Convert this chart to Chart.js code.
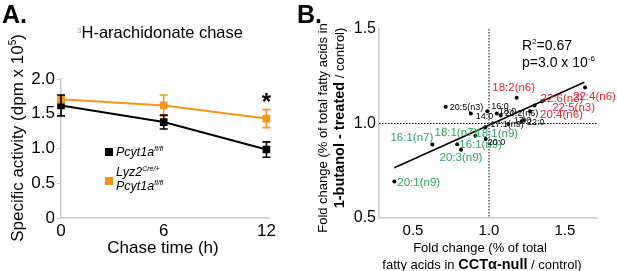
<!DOCTYPE html>
<html>
<head>
<meta charset="utf-8">
<script src="https://cdn.jsdelivr.net/npm/chart.js@4.4.0/dist/chart.umd.min.js"></script>
<style>
  html, body { margin: 0; padding: 0; background: #fff; }
  #wrap { position: relative; width: 617px; height: 271px; overflow: hidden; }
  #chartA { position: absolute; left: 0; top: 0; }
  #chartB { position: absolute; left: 295px; top: 0; }
</style>
</head>
<body>
<div id="wrap">
  <canvas id="chartA" width="295" height="271"></canvas>
  <canvas id="chartB" width="322" height="271"></canvas>
</div>
<script>
// panel A: 3H-arachidonate chase
const chaseHours = [0, 6, 12];
const floxValues = [1.62, 1.38, 0.985];
const floxErrors = [0.15, 0.10, 0.11];
const nullValues = [1.71, 1.62, 1.43];
const nullErrors = [0.05, 0.15, 0.13];
const chaseTicks = [0, 6, 12];
const activityTicks = [0, 0.5, 1.0, 1.5, 2.0];

// panel B: fold changes per fatty acid
const acidNames = ["20:1(n9)", "16:1(n7)", "18:1(n7)", "18:1(n9)", "16:1(n9)", "20:3(n9)", "20:0",
  "20:5(n3)", "14:0", "16:0", "18:0", "20:2(n6)", "17:1(n9)", "17:0", "22:0",
  "18:2(n6)", "22:6(n3)", "22:5(n3)", "20:4(n6)", "22:4(n6)"];
const cctNull = [0.377, 0.627, 0.910, 0.976, 0.791, 0.816, 0.978,
  0.715, 0.880, 0.989, 1.051, 1.077, 1.127, 1.215, 1.230,
  1.182, 1.300, 1.350, 1.270, 1.632];
const butanol = [0.693, 0.889, 0.935, 0.980, 0.890, 0.861, 0.918,
  1.088, 1.053, 1.065, 1.053, 1.042, 0.998, 1.012, 1.017,
  1.136, 1.095, 1.118, 1.065, 1.190];
const acidGroup = ["down", "down", "down", "down", "down", "down", "other",
  "other", "other", "other", "other", "other", "other", "other", "other",
  "up", "up", "up", "up", "up"];
const fitX = [0.377, 1.627];
const fitY = [0.766, 1.218];
const foldTicks = [0.5, 1.0, 1.5];
const refLine = 1.0;

// label layout (pixel offsets from each dot)
const labelLayout = [[3, 0, "left"], [1, -8, "right"], [2, -4, "right"], [-10, 6, "left"], [2, 0, "left"], [0, 7, "center"], [2, 3, "left"],
  [4, 0, "left"], [5, 2, "left"], [4, -5, "left"], [2, -3, "left"], [4, -3, "left"], [-18, 0, "left"], [-8, -1, "left"], [3, 1, "left"],
  [-3, -11, "center"], [6, -8, "left"], [10, 6, "left"], [10, 3, "left"], [-12, 8, "left"]];

const FONT = "'Liberation Sans', Arial, sans-serif";
const ORANGE = "#F7941D";
const RED = "#E5262D";
const GREEN = "#2FA65A";
const AXIS = "#c9c9c9";

function drawRuns(ctx, runs, x, y, align) {
  let total = 0;
  runs.forEach(r => { ctx.font = r.font; r.w = ctx.measureText(r.t).width; total += r.w; });
  let sx = align === "center" ? x - total / 2 : align === "right" ? x - total : x;
  ctx.textAlign = "left";
  ctx.textBaseline = "alphabetic";
  runs.forEach(r => {
    ctx.font = r.font;
    ctx.fillStyle = r.color || "#000";
    ctx.fillText(r.t, sx, y - (r.rise || 0));
    sx += r.w;
  });
}

const errorBars = {
  id: "errorBars",
  afterDatasetsDraw(chart) {
    const ctx = chart.ctx;
    const xs = chart.scales.x, ys = chart.scales.y;
    chart.data.datasets.forEach(ds => {
      ctx.save();
      ctx.strokeStyle = ds.borderColor;
      ctx.lineWidth = 1.6;
      ds.data.forEach((p, i) => {
        const px = xs.getPixelForValue(p.x);
        const top = ys.getPixelForValue(p.y + ds.errors[i]);
        const bot = ys.getPixelForValue(p.y - ds.errors[i]);
        ctx.beginPath();
        ctx.moveTo(px, top); ctx.lineTo(px, bot);
        ctx.moveTo(px - 4, top); ctx.lineTo(px + 4, top);
        ctx.moveTo(px - 4, bot); ctx.lineTo(px + 4, bot);
        ctx.stroke();
      });
      ctx.restore();
    });
  }
};

const textA = {
  id: "textA",
  afterDraw(chart) {
    const ctx = chart.ctx;
    ctx.save();
    drawRuns(ctx, [{ t: "A.", font: "bold 25px " + FONT }], 2, 23, "left");
    drawRuns(ctx, [{ t: "3", font: "8px " + FONT, rise: 5, color: "#999" },
      { t: "H-arachidonate chase", font: "16.5px " + FONT }], 160, 38, "center");
    drawRuns(ctx, [{ t: "Chase time (h)", font: "17px " + FONT }], 163, 253, "center");
    ctx.save();
    ctx.translate(23, 138);
    ctx.rotate(-Math.PI / 2);
    drawRuns(ctx, [{ t: "Specific activity (dpm x 10", font: "17px " + FONT },
      { t: "5", font: "10px " + FONT, rise: 7 }, { t: ")", font: "17px " + FONT }], 0, 0, "center");
    ctx.restore();
    // legend
    ctx.fillStyle = "#000";
    ctx.fillRect(105, 148, 8, 8);
    ctx.fillStyle = ORANGE;
    ctx.fillRect(105, 177, 8, 8);
    const it = "italic 12.5px " + FONT, sup = "italic 7px " + FONT;
    drawRuns(ctx, [{ t: "Pcyt1a", font: it }, { t: "fl/fl", font: sup, rise: 5 }], 116, 156, "left");
    drawRuns(ctx, [{ t: "Lyz2", font: it }, { t: "Cre/+", font: sup, rise: 5 }], 116, 176, "left");
    drawRuns(ctx, [{ t: "Pcyt1a", font: it }, { t: "fl/fl", font: sup, rise: 5 }], 116, 190, "left");
    // significance mark
    const xs = chart.scales.x;
    drawRuns(ctx, [{ t: "*", font: "bold 24px " + FONT }], xs.getPixelForValue(chaseHours[2]), 110, "center");
    ctx.restore();
  }
};

new Chart(document.getElementById("chartA"), {
  type: "line",
  data: {
    datasets: [
      {
        data: chaseHours.map((h, i) => ({ x: h, y: nullValues[i] })),
        errors: nullErrors,
        borderColor: ORANGE, backgroundColor: ORANGE,
        borderWidth: 2, pointStyle: "rect", pointRadius: 4, tension: 0, clip: false
      },
      {
        data: chaseHours.map((h, i) => ({ x: h, y: floxValues[i] })),
        errors: floxErrors,
        borderColor: "#000", backgroundColor: "#000",
        borderWidth: 2, pointStyle: "rect", pointRadius: 4, tension: 0, clip: false
      }
    ]
  },
  options: {
    responsive: false, animation: false, devicePixelRatio: 1,
    layout: { padding: { top: 79, right: 26, bottom: 0, left: 0 } },
    plugins: { legend: { display: false }, tooltip: { enabled: false } },
    scales: {
      x: {
        type: "linear", min: 0, max: 12.15,
        afterBuildTicks: s => { s.ticks = chaseTicks.map(v => ({ value: v })); },
        afterFit: s => { s.height = 53; },
        grid: { drawOnChartArea: false, drawTicks: false },
        border: { color: AXIS, width: 1.5 },
        ticks: { color: "#000", padding: 3, font: { family: FONT, size: 17 }, maxRotation: 0 }
      },
      y: {
        min: 0, max: 2.0,
        afterBuildTicks: s => { s.ticks = activityTicks.map(v => ({ value: v })); },
        afterFit: s => { s.width = 61; },
        grid: { drawOnChartArea: false, tickLength: 4, tickColor: AXIS },
        border: { color: AXIS, width: 1.5 },
        ticks: { color: "#000", padding: 2, font: { family: FONT, size: 17 },
          callback: v => v === 0 ? "0" : v.toFixed(1) }
      }
    }
  },
  plugins: [errorBars, textA]
});

const textB = {
  id: "textB",
  beforeDatasetsDraw(chart) {
    const ctx = chart.ctx;
    const xs = chart.scales.x, ys = chart.scales.y;
    ctx.save();
    ctx.strokeStyle = "#000";
    ctx.lineWidth = 1;
    ctx.setLineDash([1.5, 1.5]);
    const rx = xs.getPixelForValue(refLine), ry = ys.getPixelForValue(refLine);
    ctx.beginPath();
    ctx.moveTo(rx, chart.chartArea.top); ctx.lineTo(rx, chart.chartArea.bottom);
    ctx.moveTo(chart.chartArea.left, ry); ctx.lineTo(chart.chartArea.right, ry);
    ctx.stroke();
    ctx.restore();
  },
  afterDraw(chart) {
    const ctx = chart.ctx;
    const xs = chart.scales.x, ys = chart.scales.y;
    ctx.save();
    drawRuns(ctx, [{ t: "B.", font: "bold 25px " + FONT }], 2, 23, "left");
    const f14 = "14px " + FONT;
    drawRuns(ctx, [{ t: "R", font: f14 }, { t: "2", font: "8px " + FONT, rise: 6 }, { t: "=0.67", font: f14 }], 227, 50, "left");
    drawRuns(ctx, [{ t: "p=3.0 x 10", font: f14 }, { t: "-6", font: "8px " + FONT, rise: 6 }], 227, 67, "left");
    const f13 = "13px " + FONT, b15 = "bold 14.5px " + FONT;
    drawRuns(ctx, [{ t: "Fold change (% of total", font: f13 }], 185, 252, "center");
    drawRuns(ctx, [{ t: "fatty acids in ", font: f13 }, { t: "CCTα-null", font: b15 }, { t: " / control)", font: f13 }], 187, 269, "center");
    ctx.save();
    ctx.translate(32, 128);
    ctx.rotate(-Math.PI / 2);
    drawRuns(ctx, [{ t: "Fold change (% of total fatty acids in", font: f13 }], 0, 0, "center");
    ctx.restore();
    ctx.save();
    ctx.translate(49, 118);
    ctx.rotate(-Math.PI / 2);
    drawRuns(ctx, [{ t: "1-butanol - treated", font: b15 }, { t: " / control)", font: f13 }], 0, 0, "center");
    ctx.restore();
    // point labels
    acidNames.forEach((name, i) => {
      const px = xs.getPixelForValue(cctNull[i]), py = ys.getPixelForValue(butanol[i]);
      const g = acidGroup[i];
      const color = g === "up" ? RED : g === "down" ? GREEN : "#000";
      const fs = g === "other" ? 9 : 11.5;
      const [dx, dy, align] = labelLayout[i];
      drawRuns(ctx, [{ t: name, font: fs + "px " + FONT, color }], px + dx, py + dy + fs * 0.36, align);
    });
    ctx.restore();
  }
};

new Chart(document.getElementById("chartB"), {
  type: "scatter",
  data: {
    datasets: [
      {
        type: "line",
        data: fitX.map((x, i) => ({ x, y: fitY[i] })),
        borderColor: "#000", borderWidth: 1.5, pointRadius: 0, tension: 0
      },
      {
        data: cctNull.map((x, i) => ({ x, y: butanol[i] })),
        backgroundColor: "#000", borderWidth: 0, pointRadius: 2, clip: false
      }
    ]
  },
  options: {
    responsive: false, animation: false, devicePixelRatio: 1,
    layout: { padding: { top: 29, right: 20, bottom: 0, left: 0 } },
    plugins: { legend: { display: false }, tooltip: { enabled: false } },
    scales: {
      x: {
        type: "linear", min: 0.2763, max: 1.7105,
        afterBuildTicks: s => { s.ticks = foldTicks.map(v => ({ value: v })); },
        afterFit: s => { s.height = 53; },
        grid: { drawOnChartArea: false, drawTicks: false },
        border: { color: AXIS, width: 1.5 },
        ticks: { color: "#000", padding: 4, font: { family: FONT, size: 15 }, maxRotation: 0,
          callback: v => v.toFixed(1) }
      },
      y: {
        min: 0.5, max: 1.5,
        afterBuildTicks: s => { s.ticks = foldTicks.map(v => ({ value: v })); },
        afterFit: s => { s.width = 84; },
        grid: { drawOnChartArea: false, drawTicks: false },
        border: { color: AXIS, width: 1.5 },
        ticks: { color: "#000", padding: 3, font: { family: FONT, size: 16 },
          callback: v => v.toFixed(1) }
      }
    }
  },
  plugins: [textB]
});
</script>
</body>
</html>
